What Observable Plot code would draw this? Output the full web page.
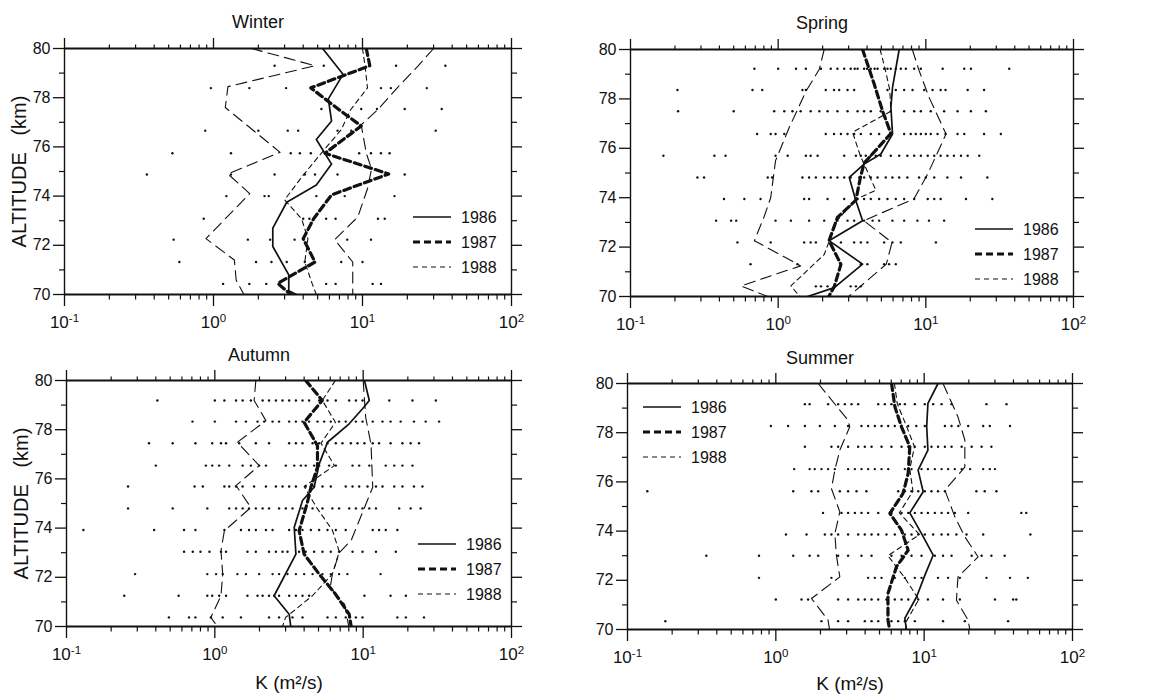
<!DOCTYPE html>
<html><head><meta charset="utf-8">
<script src="https://cdn.jsdelivr.net/npm/d3@7"></script>
<script src="https://cdn.jsdelivr.net/npm/@observablehq/plot@0.6"></script>
<style>
body{margin:0;background:#fff;}
#wrap{position:relative;width:1153px;height:699px;overflow:hidden;background:#fff;}
#wrap svg{position:absolute;}
</style></head><body><div id="wrap"></div>
<script>
// ---------- labels ----------
const seasons = ["Winter", "Spring", "Autumn", "Summer"];
const years = ["1986", "1987", "1988"];
const xTickValues = [0.1, 1, 10, 100];
const xTickBase = "10";
const xTickExponents = ["-1", "0", "1", "2"];
const xMinorTicks = [0.2,0.3,0.4,0.5,0.6,0.7,0.8,0.9,2,3,4,5,6,7,8,9,20,30,40,50,60,70,80,90];
const yTickValues = [70, 72, 74, 76, 78, 80];
const yMinorTicks = [71, 73, 75, 77, 79];
const yLabel = "ALTITUDE\u00A0\u00A0\u00A0(km)";
const xLabel = "K (m\u00B2/s)";

// ---------- Winter ----------
const winterDots = [
 [79.3, [2.57, 5.5, 16.8, 36]],
 [78.39, [0.96, 1.74, 3.07, 13.3, 15.5, 27]],
 [77.54, [5.3, 9.8, 12.5, 19.2, 34]],
 [76.66, [0.88, 2.0, 3.15, 3.7, 6.8, 8.4, 31]],
 [75.74, [0.53, 1.31, 3.3, 3.8, 4.5, 9.5, 11.4, 13.3, 15.2]],
 [74.88, [0.357, 1.31, 2.57, 4.1, 4.8, 6.8, 19.2]],
 [74.0, [1.22, 2.2, 2.35, 4.9, 7.6, 16.4]],
 [73.08, [0.86, 4.0, 4.4, 5.7, 6.6, 12.7, 14.1]],
 [72.23, [0.54, 1.7, 2.4, 3.5, 7.9, 11.4]],
 [71.32, [0.59, 1.93, 2.45, 3.1, 4.1, 7.2, 10]],
 [70.43, [1.16, 1.74, 2.26, 5.7, 6.6, 11.7, 13.3]]
];
const winter1986 = [[80,5.4],[78.95,7.4],[77.95,5.9],[77.05,6.2],[76.3,4.9],[75.3,6.2],[74.45,4.9],[73.75,3.1],[72.7,2.5],[71.95,2.5],[70.8,3.2],[70.15,3.2],[70,3.6]];
const winter1987 = [[80,10.6],[79.3,11.2],[78.4,4.5],[77.5,7.0],[76.85,9.8],[75.74,5.6],[74.9,15.0],[74.05,6.2],[73.08,4.7],[72.27,4.0],[71.32,4.8],[70.45,2.7],[70,3.3]];
const winter1988 = [[80,10.0],[79.3,10.4],[78.4,10.8],[77.5,8.3],[76.7,7.2],[75.75,5.3],[74.85,4.0],[73.85,3.0],[73.08,3.9],[72.27,4.3],[71.32,4.1],[70.43,4.6],[70,4.9]];
const winterLow = [[80,1.8],[79.3,4.8],[78.45,1.25],[77.6,1.2],[75.78,2.8],[74.9,1.25],[74.1,1.75],[72.27,0.89],[71.4,1.38],[70.58,1.42],[70,1.6]];
const winterHigh = [[80,30],[79.3,23.7],[78.4,17.1],[77.5,12.6],[76.9,9.8],[75.75,10.6],[75.1,11.5],[74.3,10.8],[73.15,9.3],[72.23,6.5],[71.32,8.6],[70.43,8.6],[70,8.6]];

// ---------- Spring ----------
const springDots = [
 [79.22, [0.69, 1.0, 1.32, 1.54, 1.95, 2.27, 2.52, 2.8, 3.1, 3.3, 3.45, 3.82, 4.0, 4.24, 4.5, 4.71, 5.22, 5.5, 5.79, 6.26, 6.77, 7.32, 8.34, 9.25, 13, 18.2, 20.2, 36.7]],
 [78.36, [0.208, 0.67, 0.78, 1.46, 1.54, 2.1, 2.39, 2.59, 2.95, 3.27, 5.5, 6.26, 7.13, 8.13, 9.75, 11.1, 12.6, 13.6, 19.2, 24.8]],
 [77.5, [0.21, 0.5, 0.94, 1.1, 1.25, 1.42, 1.66, 1.9, 2.16, 2.52, 2.95, 3.45, 3.82, 4.24, 4.95, 5.79, 7.13, 8.34, 9.25, 10.8, 13.3, 16.4, 20.2, 25.5]],
 [76.58, [0.72, 0.89, 0.96, 1.1, 2.1, 2.39, 2.66, 2.95, 3.27, 3.63, 4.24, 4.83, 7.13, 7.9, 8.55, 9.25, 10.0, 10.8, 12.0, 13.6, 16.4, 18.2, 24.8, 32.2]],
 [75.7, [0.167, 0.37, 0.44, 0.96, 1.16, 1.54, 1.66, 1.85, 2.8, 3.36, 3.63, 3.92, 4.24, 4.58, 4.95, 5.79, 6.6, 7.5, 8.34, 9.25, 10.3, 11.4, 12.6, 14.0, 15.5, 17.3, 19.2, 23.0]],
 [74.82, [0.284, 0.315, 0.85, 0.91, 1.46, 1.62, 1.8, 2.05, 2.27, 2.52, 2.8, 3.1, 3.54, 3.82, 4.24, 4.71, 5.35, 5.94, 6.6, 7.5, 9.0, 10.0, 11.4, 14.0, 17.3, 26.1]],
 [73.95, [0.43, 0.59, 0.76, 1.5, 1.62, 2.16, 2.8, 3.45, 3.82, 4.24, 4.83, 5.5, 6.26, 7.13, 8.34, 10.3, 11.4, 12.6, 18.7, 28.2]],
 [73.07, [0.38, 0.48, 0.52, 0.96, 1.22, 1.62, 2.05, 2.52, 2.95, 3.27, 3.82, 4.36, 4.83, 5.94, 7.13, 8.77, 10.5, 13.3]],
 [72.19, [0.53, 0.89, 1.5, 1.66, 1.8, 2.66, 3.27, 3.63, 4.02, 5.22, 5.94, 6.77, 11.7]],
 [71.31, [0.65, 1.35, 3.63, 4.02, 5.22, 5.64, 6.26]],
 [70.41, [1.8, 1.95, 2.16, 2.39, 3.1, 3.36, 3.63]]
];
const spring1986 = [[80,6.6],[78.47,5.95],[77.66,5.8],[76.58,5.95],[75.77,4.96],[75.36,3.82],[74.82,3.03],[73.88,3.36],[73.07,3.73],[72.26,2.21],[71.31,3.73],[70.36,2.4],[70,1.58]];
const spring1987 = [[80,3.73],[78.6,4.47],[77.5,5.1],[76.6,5.8],[75.4,3.82],[74.8,3.6],[73.9,3.36],[73.2,2.52],[72.26,2.21],[71.3,2.66],[70.4,2.4],[70,2.2]];
const spring1988 = [[80,4.9],[79.22,5.3],[78.36,5.7],[77.5,5.8],[76.65,3.19],[75.7,3.6],[74.3,4.59],[73.95,3.4],[73.07,2.5],[72.19,2.2],[71.7,2.05],[70.43,1.22],[70,1.4]];
const springLow = [[80,2.05],[79.2,1.9],[78.3,1.54],[76.85,1.19],[75.5,0.96],[74.0,0.89],[73.2,0.8],[72.26,0.69],[71.24,1.42],[70.43,0.56],[70,0.85]];
const springHigh = [[80,8.1],[79.15,9.0],[78.07,10.5],[76.58,13.7],[74.96,10.3],[73.95,8.3],[73.07,3.8],[72.19,5.9],[71.31,5.4],[70,3.0]];

// ---------- Autumn ----------
const autumnDots = [
 [79.19, [0.41, 1.0, 1.16, 1.39, 1.54, 1.75, 2.1, 2.32, 2.58, 2.86, 3.17, 3.52, 3.9, 4.32, 5.05, 5.75, 6.54, 8.05, 8.93, 9.9, 15.0, 21.5, 30.9]],
 [78.33, [0.707, 1.0, 1.39, 1.62, 1.94, 2.15, 2.45, 2.71, 3.17, 3.52, 3.9, 4.32, 4.92, 5.46, 6.05, 6.88, 7.63, 8.93, 9.9, 11.6, 13.5, 15.3, 17.9, 22.0, 26.4, 32.5]],
 [77.45, [0.36, 0.52, 0.74, 0.96, 1.1, 1.19, 1.46, 1.89, 2.32, 3.17, 3.52, 3.9, 4.56, 5.05, 5.75, 6.54, 7.25, 8.26, 9.16, 10.2, 11.6, 12.8, 15.3, 18.4, 20.9, 23.8]],
 [76.54, [0.4, 0.87, 0.96, 1.07, 1.25, 1.54, 1.75, 1.99, 2.21, 3.01, 3.43, 3.8, 4.1, 4.67, 5.05, 5.9, 6.54, 8.48, 9.4, 11.0, 14.2, 16.2, 18.4, 21.5]],
 [75.69, [0.26, 0.73, 0.83, 1.16, 1.25, 1.39, 1.54, 1.84, 2.21, 2.58, 2.86, 3.17, 3.52, 4.1, 4.67, 5.32, 6.05, 7.63, 8.48, 9.4, 10.7, 12.2, 13.5, 16.2, 18.4, 22.0, 25.1]],
 [74.8, [0.26, 0.52, 0.89, 1.25, 1.39, 1.54, 1.7, 1.89, 2.1, 2.32, 2.71, 3.01, 3.34, 3.9, 4.56, 5.32, 6.2, 6.88, 8.05, 8.93, 9.9, 11.0, 12.2, 17.5, 20.9, 24.4]],
 [73.92, [0.13, 0.39, 0.62, 0.74, 1.16, 1.5, 1.7, 1.89, 2.21, 2.45, 3.17, 3.52, 3.9, 4.44, 5.05, 5.75, 6.54, 7.63, 11.6, 12.8, 14.2, 17.0]],
 [73.04, [0.62, 0.71, 0.8, 0.92, 1.1, 1.19, 1.66, 1.89, 2.32, 2.58, 2.86, 3.09, 3.7, 4.1, 4.67, 5.32, 6.05, 6.88, 8.48, 9.9, 12.2, 16.6]],
 [72.13, [0.29, 0.89, 1.02, 1.13, 1.42, 1.62, 1.99, 2.45, 2.71, 3.09, 3.52, 4.0, 4.56, 5.32, 6.05, 6.88, 7.83, 13.1]],
 [71.25, [0.245, 0.57, 0.89, 0.96, 1.07, 1.19, 1.66, 1.94, 2.1, 2.32, 2.51, 2.71, 3.17, 3.52, 3.9, 4.32, 10.2, 15.3, 19.4]],
 [70.37, [0.49, 0.67, 0.74, 0.94, 1.13, 1.5, 2.32, 2.71, 3.34, 3.9, 5.75, 6.54, 7.63, 8.93, 9.9, 17.0, 19.4, 25.7]]
];
const autumn1986 = [[80,10.2],[79.19,11.0],[78.85,9.9],[78.24,8.05],[77.49,5.75],[76.6,5.05],[75.66,4.67],[75.12,3.9],[74.03,3.43],[72.94,3.52],[71.25,2.51],[70.5,3.17],[70,3.25]];
const autumn1987 = [[80,4.1],[79.19,5.3],[78.3,4.0],[77.35,4.92],[76.47,4.92],[75.66,4.44],[75.05,4.21],[73.89,3.7],[72.94,4.0],[72.13,5.05],[71.32,6.5],[70.5,8.05],[70,8.3]];
const autumn1988 = [[80,6.5],[79.19,5.3],[78.3,6.5],[77.45,5.2],[76.54,6.4],[75.69,4.0],[74.8,4.9],[73.92,6.2],[73.04,6.9],[72.13,6.2],[71.25,4.55],[70.37,3.0],[70,2.86]];
const autumnLow = [[80,1.89],[79.19,1.84],[78.37,2.21],[77.49,1.42],[76.54,1.99],[75.73,1.39],[74.84,1.75],[73.89,1.16],[73.08,1.1],[72.13,1.13],[71.25,1.1],[70.37,0.94],[70,1.04]];
const autumnHigh = [[80,10.0],[78.5,10.4],[77.4,11.3],[75.66,11.6],[74.44,9.6],[73.5,8.3],[73.0,6.9],[72.13,6.2],[71.6,6.0],[70.9,7.5],[70,8.0]];

// ---------- Summer ----------
const summerDots = [
 [79.16, [1.57, 1.69, 2.25, 2.63, 2.92, 3.24, 3.59, 4.9, 5.43, 6.02, 6.85, 7.41, 8.65, 10.1, 11.5, 13.1, 15.3, 26.3, 35.9]],
 [78.27, [0.926, 1.21, 1.57, 1.98, 2.5, 3.07, 3.78, 4.19, 4.65, 5.16, 5.72, 6.34, 7.04, 7.81, 8.85, 10.1, 13.8, 15.3, 17.0, 19.8, 25.0, 27.7, 37.9]],
 [77.43, [1.57, 2.37, 2.63, 3.07, 3.59, 3.98, 4.42, 5.16, 6.02, 7.04, 7.81, 8.65, 10.1, 11.2, 12.4, 13.8, 15.3, 17.9, 20.9, 24.4, 28.4]],
 [76.52, [1.33, 1.69, 1.83, 2.03, 2.25, 2.5, 3.07, 3.41, 3.78, 4.19, 4.65, 5.16, 5.72, 7.41, 8.22, 9.6, 10.6, 11.8, 13.1, 14.5, 16.1, 17.9, 20.4, 25.0, 27.7, 30.0]],
 [75.62, [0.136, 1.31, 1.74, 1.93, 2.7, 3.07, 3.5, 4.08, 6.68, 7.41, 8.22, 9.12, 10.1, 11.2, 12.4, 13.8, 22.5, 25.6, 30.7]],
 [74.74, [2.08, 2.77, 3.07, 3.41, 3.78, 4.19, 4.9, 6.02, 7.04, 7.81, 8.65, 9.6, 10.6, 11.8, 13.1, 14.5, 16.1, 19.8, 45.2, 48.8]],
 [73.86, [1.17, 1.61, 2.14, 2.37, 2.63, 3.07, 3.59, 3.98, 4.42, 4.9, 5.57, 6.34, 7.41, 8.22, 9.12, 10.1, 11.5, 13.1, 14.5, 16.5, 19.3, 25.0, 52]],
 [73.0, [0.34, 0.77, 1.31, 1.69, 1.93, 2.63, 3.07, 3.78, 4.42, 6.02, 7.04, 8.22, 9.6, 11.8, 13.4, 15.3, 20.9, 24.4, 28.4, 34.9]],
 [72.1, [0.77, 2.37, 4.19, 4.65, 5.16, 6.34, 7.41, 8.65, 9.6, 12.4, 14.5, 17.4, 26.3, 37.9, 50]],
 [71.22, [1.0, 1.49, 1.65, 2.63, 3.07, 3.59, 3.98, 4.42, 4.9, 5.57, 6.34, 7.04, 7.81, 9.12, 10.6, 13.4, 17.4, 30.0, 39.8, 41.8]],
 [70.34, [0.18, 2.03, 2.63, 3.07, 3.98, 4.42, 4.9, 6.02, 6.68, 7.41, 8.65, 13.4, 18.8, 36.8]]
];
const summer1986 = [[80,12.4],[79.19,10.6],[78.24,10.4],[77.29,10.6],[76.48,9.1],[75.6,9.85],[74.74,8.0],[73.9,9.6],[73.02,11.5],[72.2,10.1],[71.33,8.9],[70.45,7.4],[70,7.6]];
const summer1987 = [[80,6.03],[79.05,6.35],[78.24,7.03],[77.43,8.0],[76.34,7.8],[75.53,7.2],[74.72,5.87],[74.04,7.03],[73.22,7.8],[72.55,6.5],[71.46,5.7],[70.38,5.7],[70,5.85]];
const summer1988 = [[80,6.3],[79.16,6.6],[78.27,7.6],[77.43,8.6],[76.52,8.0],[75.62,8.4],[74.74,6.8],[73.86,9.3],[73.0,5.7],[72.1,7.4],[71.22,9.2],[70.34,7.6],[70,7.5]];
const summerLow = [[80,1.93],[78.5,3.07],[78.24,3.15],[77.29,2.7],[76.48,2.5],[75.73,2.37],[74.78,2.7],[73.9,2.5],[73.02,2.56],[72.14,2.7],[71.26,1.74],[70.38,2.25],[70,2.3]];
const summerHigh = [[80,13.4],[78.64,16.9],[77.7,18.8],[76.6,18.8],[75.66,13.8],[74.58,16.1],[73.77,18.8],[72.95,23.1],[72.14,16.9],[71.19,16.5],[70.38,19.8],[70,20.3]];

// ---------- styles & layout ----------
const FONT = "'Liberation Sans', Arial, Helvetica, sans-serif";
const lineStyle = [
  {strokeWidth: 1.7, strokeDasharray: null},
  {strokeWidth: 3.2, strokeDasharray: "7,4"},
  {strokeWidth: 1.1, strokeDasharray: "5,4"}
];
const envStyle = {strokeWidth: 1.1, strokeDasharray: "11,6"};

const panels = [
  {title: seasons[0], dots: winterDots, lines: [winter1986, winter1987, winter1988], lo: winterLow, hi: winterHigh,
   left: 0, top: 0, width: 576, height: 330, mt: 48, mr: 65, mb: 36, ml: 64, ylab: true, xlab: false, tdy: -26, legend: [413, 217]},
  {title: seasons[1], dots: springDots, lines: [spring1986, spring1987, spring1988], lo: springLow, hi: springHigh,
   left: 566, top: 0, width: 587, height: 330, mt: 49, mr: 80, mb: 34, ml: 64, ylab: false, xlab: false, tdy: -26, legend: [409, 229]},
  {title: seasons[2], dots: autumnDots, lines: [autumn1986, autumn1987, autumn1988], lo: autumnLow, hi: autumnHigh,
   left: 0, top: 332, width: 576, height: 367, mt: 48, mr: 65, mb: 73, ml: 66, ylab: true, xlab: true, xdy: 56, tdy: -25, legend: [418, 212]},
  {title: seasons[3], dots: summerDots, lines: [summer1986, summer1987, summer1988], lo: summerLow, hi: summerHigh,
   left: 566, top: 332, width: 587, height: 367, mt: 51, mr: 81, mb: 70, ml: 61, ylab: false, xlab: true, xdy: 54, tdy: -25, legend: [77, 75]}
];

const wrap = document.getElementById("wrap");
const tickText = d => xTickBase + "^" + xTickExponents[xTickValues.indexOf(d)];

function drawPanel(p) {
  const dots = p.dots.flatMap(([alt, ks]) => ks.map(k => ({alt, k})));
  const lineMark = (data, st) => Plot.line(data, {x: d => d[1], y: d => d[0], stroke: "#111",
    strokeWidth: st.strokeWidth, strokeDasharray: st.strokeDasharray || undefined, clip: true});
  const marks = [
    Plot.dot(dots, {x: "k", y: "alt", r: 1.2, fill: "#111", stroke: "none"}),
    lineMark(p.lo, envStyle),
    lineMark(p.hi, envStyle),
    lineMark(p.lines[2], lineStyle[2]),
    lineMark(p.lines[0], lineStyle[0]),
    lineMark(p.lines[1], lineStyle[1]),
    Plot.ruleY([70, 80], {stroke: "#111", strokeWidth: 2}),
    Plot.ruleX([0.1, 100], {stroke: "#111", strokeWidth: 1.4}),
    // x axes
    Plot.axisX({anchor: "bottom", ticks: xTickValues, tickSize: 12, tickPadding: 9, strokeWidth: 1.3,
      tickFormat: tickText, fontSize: 17, label: null}),
    Plot.axisX({anchor: "bottom", ticks: xMinorTicks, tickSize: 5.5, strokeWidth: 1.2, tickFormat: () => "", label: null}),
    Plot.axisX({anchor: "top", ticks: xTickValues, tickSize: 11, strokeWidth: 1.3, tickFormat: () => "", label: null}),
    Plot.axisX({anchor: "top", ticks: xMinorTicks, tickSize: 4.5, strokeWidth: 1.2, tickFormat: () => "", label: null}),
    // y axes
    Plot.axisY({anchor: "left", ticks: yTickValues, tickSize: 11, tickPadding: 3, strokeWidth: 1.3,
      tickFormat: d => String(d), fontSize: 16, label: null}),
    Plot.axisY({anchor: "left", ticks: yMinorTicks, tickSize: 5, strokeWidth: 1.2, tickFormat: () => "", label: null}),
    Plot.axisY({anchor: "right", ticks: yTickValues, tickSize: 10, strokeWidth: 1.3, tickFormat: () => "", label: null}),
    Plot.axisY({anchor: "right", ticks: yMinorTicks, tickSize: 5, strokeWidth: 1.2, tickFormat: () => "", label: null}),
    Plot.text([p.title], {text: d => d, frameAnchor: "top", textAnchor: "middle", lineAnchor: "middle",
      dx: -30, dy: p.tdy, fontSize: 18})
  ];
  if (p.ylab) marks.push(Plot.text([yLabel], {text: d => d, frameAnchor: "left", rotate: -90,
      textAnchor: "middle", lineAnchor: "middle", dx: -45, fontSize: 20}));
  if (p.xlab) marks.push(Plot.text([xLabel], {text: d => d, frameAnchor: "bottom",
      textAnchor: "middle", lineAnchor: "middle", dy: p.xdy, fontSize: 19}));

  const svg = Plot.plot({
    width: p.width, height: p.height,
    marginTop: p.mt, marginRight: p.mr, marginBottom: p.mb, marginLeft: p.ml,
    x: {type: "log", domain: [0.1, 100]},
    y: {domain: [70, 80]},
    style: {fontFamily: FONT, fontSize: "16px", color: "#111", background: "transparent", overflow: "visible"},
    marks
  });
  svg.style.left = p.left + "px";
  svg.style.top = p.top + "px";

  // decade labels: render the exponent as a raised, smaller tspan
  d3.select(svg).selectAll("text").each(function () {
    const t = this.textContent;
    if (/^10\^/.test(t)) {
      const [base, exp] = t.split("^");
      const el = d3.select(this);
      el.text(null);
      el.append("tspan").text(base);
      el.append("tspan").attr("dy", "-0.5em").attr("font-size", "0.68em").text(exp);
    }
  });

  // legend
  const [lx, ly] = p.legend;
  const g = d3.select(svg).append("g").attr("font-family", FONT).attr("font-size", 16)
    .attr("fill", "#111").attr("text-anchor", "start");
  years.forEach((yr, i) => {
    const yy = ly + i * 25;
    const st = lineStyle[i];
    g.append("line").attr("x1", lx).attr("x2", lx + 38).attr("y1", yy).attr("y2", yy)
      .attr("stroke", "#111").attr("stroke-width", st.strokeWidth)
      .attr("stroke-dasharray", st.strokeDasharray);
    g.append("text").attr("x", lx + 48).attr("y", yy).attr("dy", "0.35em").text(yr);
  });
  wrap.appendChild(svg);
}
panels.forEach(drawPanel);
</script></body></html>
